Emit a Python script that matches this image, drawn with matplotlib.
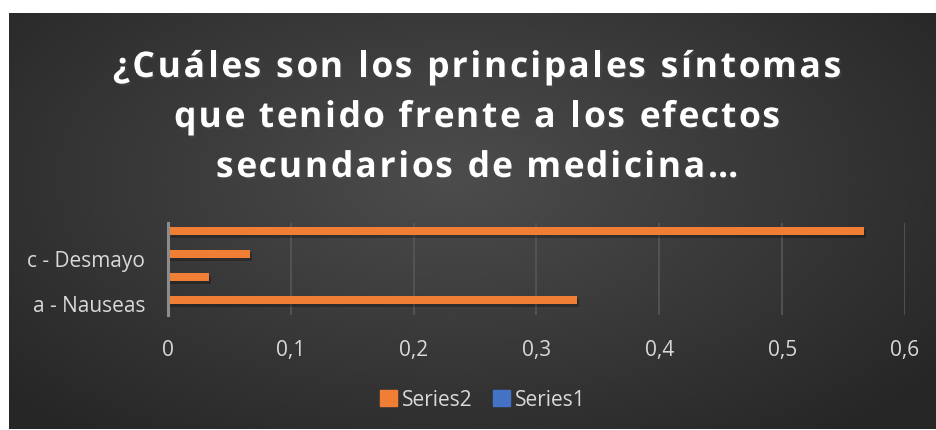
import numpy as np
import matplotlib
matplotlib.use("Agg")
import matplotlib.pyplot as plt
import matplotlib.patheffects as pe
from matplotlib.patches import Rectangle

# data
categories = ["a - Nauseas", "b", "c - Desmayo", "d"]
tick_labels = ["a - Nauseas", "", "c - Desmayo", ""]
series2 = [0.3333, 0.0333, 0.0667, 0.5667]
series1 = [0.0, 0.0, 0.0, 0.0]
x_ticks = [0, 0.1, 0.2, 0.3, 0.4, 0.5, 0.6]
x_tick_labels = ["0", "0,1", "0,2", "0,3", "0,4", "0,5", "0,6"]
title_lines = ["¿Cuáles son los principales síntomas",
               "que tenido frente a los efectos",
               "secundarios de medicina…"]

W, H = 937, 431
fig = plt.figure(figsize=(W / 100, H / 100), dpi=100)
fig.patch.set_facecolor("white")

# dark chart area with a soft radial gradient
bg = fig.add_axes([9 / W, 1 / H, 928 / W, 416 / H])
bg.set_axis_off()
yy, xx = np.mgrid[0:1:200j, 0:1:400j]
r = np.sqrt(((xx - 0.48) / 0.75) ** 2 + ((yy - 0.6) / 0.9) ** 2)
shade = np.clip(0.30 - 0.17 * r, 0.15, 0.30)
bg.imshow(shade, cmap="gray", vmin=0, vmax=1, aspect="auto",
          extent=[0, 1, 0, 1], origin="lower", interpolation="bicubic")

label_col = "#d9d9d9"
font = ["Open Sans", "DejaVu Sans"]
renderer = fig.canvas.get_renderer()


def char_width(ch, size):
    # width of a character measured between two x's, so spaces count too
    t1 = fig.text(0, 0, "x" + ch + "x", fontsize=size, fontweight="bold", family=font)
    t2 = fig.text(0, 0, "xx", fontsize=size, fontweight="bold", family=font)
    w = t1.get_window_extent(renderer).width - t2.get_window_extent(renderer).width
    t1.remove()
    t2.remove()
    return w


def spaced_line(text, xc, baseline, size, spacing):
    widths = [char_width(ch, size) for ch in text]
    total = sum(widths) + spacing * (len(text) - 1)
    x = xc - total / 2
    for ch, w in zip(text, widths):
        if ch != " ":
            fig.text(x / W, 1 - baseline / H, ch, ha="left", va="baseline",
                     fontsize=size, fontweight="bold", color="white", family=font,
                     path_effects=[pe.SimplePatchShadow(offset=(1.2, -1.5), alpha=0.5),
                                   pe.Normal()])
        x += w + spacing


for line, base in zip(title_lines, [78, 128, 178]):
    spaced_line(line, 477, base, 25.5, 2.8)

ax = fig.add_axes([168 / W, 1 - 316 / H, (905 - 168) / W, (316 - 224) / H])
ax.set_facecolor("none")
ax.set_xlim(0, 0.6)
ax.set_ylim(-0.5, len(categories) - 0.5)

y = np.arange(len(categories))
h = 0.33
shadow = [pe.SimplePatchShadow(offset=(1.5, -2.5), alpha=0.25, shadow_rgbFace="black"),
          pe.Normal()]
ax.barh(y + h / 2, series2, height=h, color="#f07f35", edgecolor="none",
        zorder=3, path_effects=shadow, label="Series2")
ax.barh(y - h / 2, series1, height=h, color="#4472c4", edgecolor="none",
        zorder=3, label="Series1")

ax.set_xticks(x_ticks)
ax.set_xticklabels(x_tick_labels)
ax.set_yticks(y)
ax.set_yticklabels(tick_labels)
ax.tick_params(length=0, colors=label_col, labelsize=15)
ax.tick_params(axis="x", pad=17)
ax.tick_params(axis="y", pad=16.5)
for lab in ax.get_xticklabels() + ax.get_yticklabels():
    lab.set_family(font)
    lab.set_color(label_col)

ax.grid(axis="x", color="#575757", linewidth=1.2, zorder=0)
ax.grid(axis="y", visible=False)
for s in ["top", "right", "bottom"]:
    ax.spines[s].set_visible(False)
ax.spines["left"].set_color("#8c8c8c")
ax.spines["left"].set_linewidth(2.2)
ax.spines["left"].set_zorder(4)

handles = [Rectangle((0, 0), 1, 1, color="#f07f35"),
           Rectangle((0, 0), 1, 1, color="#4472c4")]
leg = fig.legend(handles, ["Series2", "Series1"], loc="center",
                 bbox_to_anchor=(483 / W, 1 - 401 / H), ncol=2, frameon=False,
                 handlelength=0.8, handleheight=0.8, handletextpad=0.25,
                 columnspacing=1.0, prop={"family": font, "size": 15})
for t in leg.get_texts():
    t.set_color(label_col)

fig.savefig("out.png", dpi=100, facecolor=fig.get_facecolor())
